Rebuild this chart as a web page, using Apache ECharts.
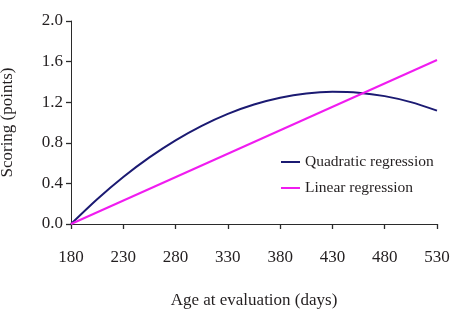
<!DOCTYPE html>
<html>
<head>
<meta charset="utf-8">
<script src="https://cdn.jsdelivr.net/npm/echarts@6/dist/echarts.min.js"></script>
<style>
  html, body { margin: 0; padding: 0; background: #fff; }
  #chart { width: 453px; height: 316px; }
</style>
</head>
<body>
<div id="chart"></div>
<script>
// values
const START_DAY = 180;
const quadDays = [180, 205, 230, 255, 280, 305, 330, 355, 380, 405, 430, 455, 480, 505, 530];
const quadScore = [0, 0.244, 0.463, 0.656, 0.824, 0.967, 1.085, 1.177, 1.244, 1.286, 1.302, 1.294, 1.26, 1.201, 1.117];
const linDays = [180, 530];
const linScore = [0, 1.616];
const yTicks = [0, 0.4, 0.8, 1.2, 1.6, 2.0];

const FONT = '"Liberation Serif", "Times New Roman", serif';
const AXIS_COLOR = '#2b2b2b';
const TEXT_COLOR = '#231f20';

// x is shifted so ticks start at 0 (multiple of the interval)
const toPoints = (days, vals) => days.map((d, i) => [d - START_DAY, vals[i]]);

const chart = echarts.init(document.getElementById('chart'), null, { renderer: 'canvas' });

chart.setOption({
  backgroundColor: '#fff',
  animation: false,
  grid: { left: 71, right: 16, top: 21, bottom: 92, outerBoundsMode: 'none', containLabel: false },
  legend: {
    orient: 'vertical',
    left: 276,
    top: 148,
    itemWidth: 19,
    itemHeight: 2,
    itemGap: 8,
    icon: 'rect',
    textStyle: { fontFamily: FONT, fontSize: 15.5, color: TEXT_COLOR, lineHeight: 18 },
    data: ['Quadratic regression', 'Linear regression']
  },
  xAxis: {
    type: 'value',
    min: 0,
    max: 350,
    interval: 50,
    name: 'Age at evaluation (days)',
    nameLocation: 'middle',
    nameGap: 68,
    nameTextStyle: { fontFamily: FONT, fontSize: 17, color: TEXT_COLOR },
    axisLine: { show: true, lineStyle: { color: AXIS_COLOR, width: 1 } },
    axisTick: { show: true, length: 5, lineStyle: { color: AXIS_COLOR, width: 1.3 } },
    axisLabel: {
      margin: 25,
      fontFamily: FONT, fontSize: 17, color: TEXT_COLOR,
      formatter: v => String(v + START_DAY)
    },
    splitLine: { show: false }
  },
  yAxis: {
    type: 'value',
    min: yTicks[0],
    max: yTicks[yTicks.length - 1],
    interval: 0.4,
    name: 'Scoring (points)',
    nameLocation: 'middle',
    nameGap: 55,
    nameTextStyle: { fontFamily: FONT, fontSize: 17, color: TEXT_COLOR },
    axisLine: { show: true, lineStyle: { color: AXIS_COLOR, width: 1 } },
    axisTick: { show: true, length: 5, lineStyle: { color: AXIS_COLOR, width: 1.3 } },
    axisLabel: {
      margin: 8,
      fontFamily: FONT, fontSize: 17, color: TEXT_COLOR,
      formatter: v => v.toFixed(1)
    },
    splitLine: { show: false }
  },
  series: [
    {
      name: 'Quadratic regression',
      type: 'line',
      data: toPoints(quadDays, quadScore),
      smooth: 0.3,
      showSymbol: false,
      symbol: 'none',
      color: '#1b1a72',
      lineStyle: { color: '#1b1a72', width: 2 }
    },
    {
      name: 'Linear regression',
      type: 'line',
      data: toPoints(linDays, linScore),
      showSymbol: false,
      symbol: 'none',
      color: '#f01cf0',
      lineStyle: { color: '#f01cf0', width: 2 }
    }
  ]
});
</script>
</body>
</html>
